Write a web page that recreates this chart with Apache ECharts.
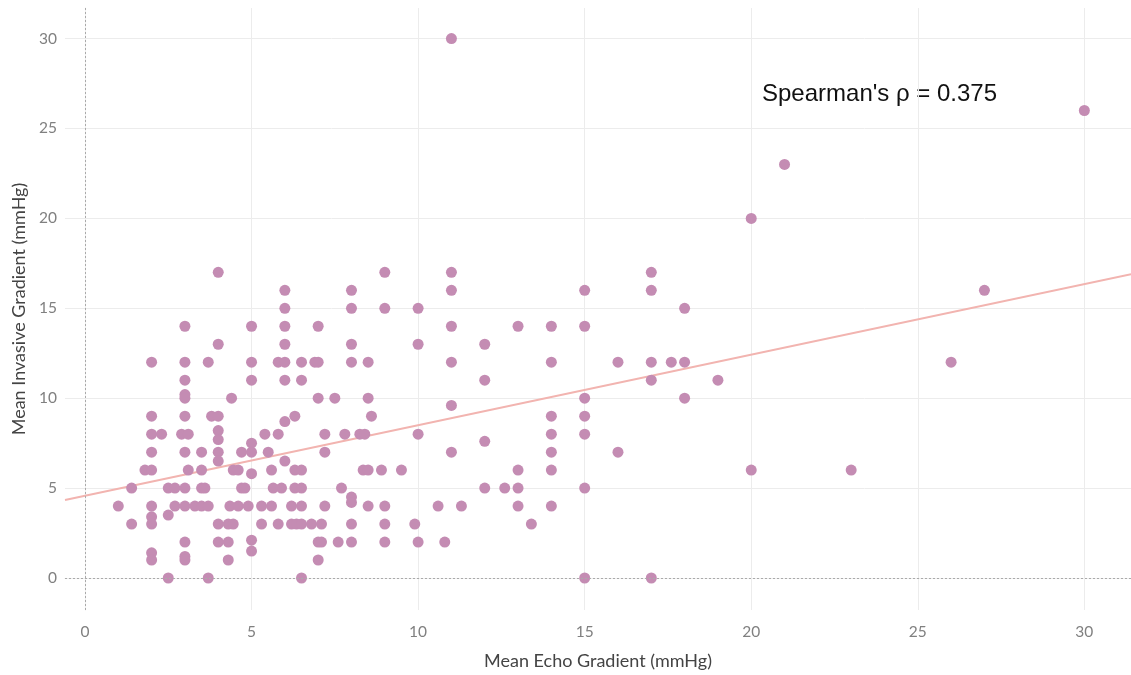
<!DOCTYPE html>
<html>
<head>
<meta charset="utf-8">
<title>Echo vs invasive gradient</title>
<script src="https://cdn.jsdelivr.net/npm/echarts@6/dist/echarts.min.js"></script>
<style>
  html, body { margin: 0; padding: 0; background: #fff; }
  #chart { width: 1131px; height: 675px; }
</style>
</head>
<body>
<div id="chart"></div>
<script>
// [echo gradient, invasive gradient] in mmHg
const points = [
  [1, 4], [1.4, 5], [1.4, 3],
  [1.8, 6], [2, 6], [2, 12], [2, 9], [2, 8], [2, 7], [2, 4], [2, 3.4], [2, 3], [2, 1.4], [2, 1],
  [2.3, 8], [2.5, 5], [2.5, 3.5], [2.5, 0], [2.7, 5], [2.7, 4],
  [3, 14], [3, 12], [3, 11], [3, 10.2], [3, 10], [3, 9], [2.9, 8], [3.1, 8], [3, 7], [3.1, 6],
  [3, 5], [3, 4], [3, 2], [3, 1.2], [3, 1],
  [3.3, 4], [3.5, 7], [3.5, 6], [3.5, 5], [3.6, 5], [3.5, 4], [3.7, 4], [3.7, 12], [3.7, 0], [3.8, 9],
  [4, 17], [4, 13], [4, 9], [4, 8.2], [4, 7.7], [4, 7], [4, 6.5], [4, 3], [4, 2],
  [4.3, 3], [4.3, 2], [4.3, 1], [4.4, 10], [4.35, 4], [4.45, 3], [4.6, 4], [4.45, 6], [4.6, 6],
  [4.7, 7], [4.7, 5], [4.8, 5], [4.9, 4],
  [5, 14], [5, 12], [5, 11], [5, 7.5], [5, 7], [5, 5.8], [5, 2.1], [5, 1.5],
  [5.3, 4], [5.3, 3], [5.4, 8], [5.5, 7], [5.6, 6], [5.6, 4], [5.65, 5], [5.8, 12], [5.8, 8], [5.8, 3], [5.9, 5],
  [6, 16], [6, 15], [6, 14], [6, 13], [6, 12], [6, 11], [6, 8.7], [6, 6.5],
  [6.2, 4], [6.2, 3], [6.35, 3], [6.5, 3], [6.3, 9], [6.3, 6], [6.3, 5],
  [6.5, 12], [6.5, 11], [6.5, 6], [6.5, 5], [6.5, 4], [6.5, 0],
  [6.8, 3], [6.9, 12], [7, 12], [7, 14], [7, 10], [7, 2], [7.1, 2], [7, 1], [7.1, 3], [7.2, 8], [7.2, 7], [7.2, 4],
  [7.5, 10], [7.6, 2], [7.7, 5], [7.8, 8],
  [8, 16], [8, 15], [8, 13], [8, 12], [8, 4.5], [8, 4.2], [8, 3], [8, 2],
  [8.25, 8], [8.4, 8], [8.35, 6], [8.5, 6], [8.5, 12], [8.5, 10], [8.5, 4], [8.6, 9], [8.9, 6],
  [9, 17], [9, 15], [9, 4], [9, 3], [9, 2], [9.5, 6], [9.9, 3],
  [10, 15], [10, 13], [10, 8], [10, 2], [10.6, 4], [10.8, 2],
  [11, 30], [11, 17], [11, 16], [11, 14], [11, 12], [11, 9.6], [11, 7], [11.3, 4],
  [12, 13], [12, 11], [12, 7.6], [12, 5], [12.6, 5],
  [13, 14], [13, 6], [13, 5], [13, 4], [13.4, 3],
  [14, 14], [14, 12], [14, 9], [14, 8], [14, 7], [14, 6], [14, 4],
  [15, 16], [15, 14], [15, 10], [15, 9], [15, 8], [15, 5], [15, 0],
  [16, 12], [16, 7],
  [17, 17], [17, 16], [17, 12], [17, 11], [17, 0], [17.6, 12],
  [18, 15], [18, 12], [18, 10], [19, 11],
  [20, 20], [20, 6], [21, 23], [23, 6], [26, 12], [27, 16], [30, 26]
];

// trend line end points
const trendLine = [[-0.6, 4.34], [31.4, 16.9]];

const xTicks = [0, 5, 10, 15, 20, 25, 30];
const yTicks = [0, 5, 10, 15, 20, 25, 30];

const xTitle = 'Mean Echo Gradient (mmHg)';
const yTitle = 'Mean Invasive Gradient (mmHg)';
const note = "Spearman's \u03c1 = 0.375";

const chart = echarts.init(document.getElementById('chart'), null, { renderer: 'canvas' });

const labelStyle = { color: '#808080', fontSize: 15.5, fontFamily: 'Lato' };
const titleStyle = { color: '#444', fontSize: 18, fontFamily: 'Lato' };
const gridLine = { show: true, lineStyle: { color: '#ececec', width: 1 } };
const zeroLine = { color: '#aaa', type: [2, 2], width: 1 };

chart.setOption({
  animation: false,
  grid: { left: 65, right: 0, top: 8, bottom: 65, containLabel: false, outerBoundsMode: 'none' },
  xAxis: {
    type: 'value',
    min: -0.6,
    max: 31.4,
    name: xTitle,
    nameLocation: 'middle',
    nameGap: 42,
    nameTextStyle: titleStyle,
    axisLine: { show: true, lineStyle: { color: '#eeeeee' } },
    axisTick: { show: false, customValues: xTicks },
    axisLabel: Object.assign({ customValues: xTicks, margin: 14 }, labelStyle),
    splitLine: gridLine
  },
  yAxis: {
    type: 'value',
    min: -1.78,
    max: 31.7,
    name: yTitle,
    nameLocation: 'middle',
    nameGap: 37,
    nameTextStyle: titleStyle,
    axisLine: { show: true, lineStyle: { color: '#eeeeee' } },
    axisTick: { show: false, customValues: yTicks },
    axisLabel: Object.assign({ customValues: yTicks, margin: 8 }, labelStyle),
    splitLine: gridLine
  },
  series: [
    {
      type: 'line',
      data: trendLine,
      symbol: 'none',
      silent: true,
      z: 1,
      lineStyle: { color: '#f2b4b0', width: 2 },
      markLine: {
        silent: true,
        symbol: 'none',
        label: { show: false },
        lineStyle: zeroLine,
        data: [{ xAxis: 0 }, { yAxis: 0 }]
      }
    },
    {
      type: 'scatter',
      data: points,
      symbolSize: 11,
      z: 3,
      itemStyle: { color: '#c48cb3', opacity: 1 }
    }
  ],
  graphic: [
    {
      type: 'text',
      left: 762,
      top: 82,
      style: {
        text: note,
        fill: '#111',
        font: '24px "Liberation Sans", Arial, sans-serif'
      }
    }
  ]
});
</script>
</body>
</html>
